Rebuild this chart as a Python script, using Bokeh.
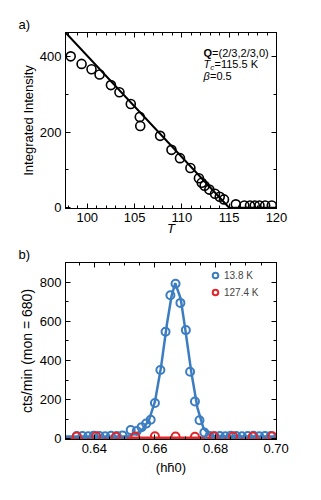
from bokeh.plotting import figure
from bokeh.models import (Range1d, LinearAxis, SingleIntervalTicker, Label,
                          Legend, LegendItem, PrintfTickFormatter, Title,
                          CustomJSTickFormatter)
from bokeh.layouts import column
from bokeh.embed import file_html
from bokeh.resources import INLINE

FONT = "Liberation Sans"

# ---------------- panel a data ----------------
a_T = [98.25, 99.4, 100.45, 101.3, 102.5, 103.4, 104.6, 105.55, 105.6, 107.7,
       108.9, 109.8, 110.9, 111.8, 112.1, 112.4, 112.9, 113.5, 114.0, 114.45,
       115.7, 116.6, 117.2, 117.7, 118.2, 118.8, 119.5]
a_I = [400, 380, 366, 352, 324, 305, 274, 240, 216, 190,
       153, 131, 105, 78, 66, 58, 48, 37, 29, 22,
       9, 6, 6, 6, 6, 6, 6]
a_fit_T = [97.7, 115.0, 120.0]
a_fit_I = [463, 0, 0]

# ---------------- panel b data ----------------
b_x_13 = [0.6342, 0.6361, 0.6380, 0.6398, 0.6417, 0.6436, 0.6455, 0.6474, 0.6493,
          0.6520, 0.6540, 0.6556, 0.6571, 0.6586, 0.6600, 0.6618, 0.6635, 0.6651,
          0.6668, 0.6684, 0.6702, 0.6716, 0.6732, 0.6747, 0.6763, 0.6780, 0.6797,
          0.6814, 0.6832, 0.6850, 0.6868, 0.6887, 0.6906, 0.6925, 0.6944, 0.6963,
          0.6982]
b_y_13 = [15, 15, 14, 16, 15, 14, 16, 15, 18,
          45, 40, 60, 78, 98, 183, 352, 547, 733,
          792, 694, 555, 343, 191, 95, 33, 15, 14,
          15, 14, 16, 15, 14, 15, 16, 14, 15,
          15]
b_fit_x_13 = [0.630, 0.650, 0.652, 0.654, 0.656, 0.658, 0.660, 0.662, 0.664, 0.6655,
              0.6667, 0.6685, 0.670, 0.672, 0.674, 0.676, 0.678, 0.680, 0.700]
b_fit_y_13 = [12, 14, 18, 28, 50, 95, 190, 365, 590, 730,
              795, 715, 560, 340, 160, 55, 20, 13, 12]

b_x_127 = [0.6342, 0.6406, 0.6471, 0.6535, 0.6600, 0.6668, 0.6732, 0.6794,
           0.6858, 0.6923, 0.6987]
b_y_127 = [12, 13, 11, 12, 14, 12, 11, 13, 12, 12, 13]
b_fit_x_127 = [0.630, 0.700]
b_fit_y_127 = [5, 5]

legend_labels = ["13.8 K", "127.4 K"]
panel_tags = ["a)", "b)"]

BLUE = "#3b7dc0"
RED = "#e3262a"


def make_axes(p, xtick, ytick, xlabel, ylabel, xfmt=None, italic_x=False):
    xa = LinearAxis(ticker=xtick, axis_label=xlabel)
    if xfmt is not None:
        xa.formatter = xfmt
    ya = LinearAxis(ticker=ytick, axis_label=ylabel)
    blank = CustomJSTickFormatter(code="return '';")
    xr = LinearAxis(ticker=xtick, formatter=blank, major_label_standoff=0)
    yr = LinearAxis(ticker=ytick, formatter=blank, major_label_standoff=0)
    p.add_layout(xa, "below")
    p.add_layout(ya, "left")
    p.add_layout(xr, "above")
    p.add_layout(yr, "right")
    for ax in [xa, ya, xr, yr]:
        ax.major_tick_in = 5
        ax.major_tick_out = 0
        ax.minor_tick_in = 3
        ax.minor_tick_out = 0
        ax.axis_line_color = "black"
        ax.major_tick_line_color = "black"
        ax.minor_tick_line_color = "black"
        ax.major_label_text_font = FONT
        ax.axis_label_text_font = FONT
        ax.major_label_text_color = "black"
        ax.axis_label_text_color = "black"
    for ax in [xa, ya]:
        ax.major_label_text_font_size = "13px"
        ax.axis_label_text_font_size = "13px"
        ax.axis_label_text_font_style = "normal"
        ax.major_label_standoff = 4
    if italic_x:
        xa.axis_label_text_font_style = "italic"
    p.xgrid.visible = False
    p.ygrid.visible = False
    p.outline_line_color = "black"
    p.outline_line_width = 1
    return xa, ya


def tag_title(text):
    return Title(text=text, align="left", offset=-47, standoff=2,
                 text_font=FONT, text_font_size="13px",
                 text_font_style="normal", text_color="black")


# ---------------- figure a ----------------
pa = figure(frame_width=211, frame_height=176, output_backend="svg",
            toolbar_location=None, x_range=Range1d(97.7, 120.0),
            y_range=Range1d(-2, 463), min_border_left=65, min_border_top=32,
            min_border_right=20, min_border_bottom=30,
            x_axis_location=None, y_axis_location=None,
            title=tag_title(panel_tags[0]))
xa, ya = make_axes(pa, SingleIntervalTicker(interval=5, num_minor_ticks=5),
                   SingleIntervalTicker(interval=200, num_minor_ticks=2),
                   "T", "Integrated Intensity", italic_x=True)
xa.axis_label_standoff = -4
ya.axis_label_standoff = 1

pa.line(a_fit_T, a_fit_I, line_color="black", line_width=2)
pa.scatter(a_T, a_I, marker="circle", size=9, fill_color=None,
           line_color="black", line_width=1.6)

ann = dict(x_units="screen", y_units="screen", text_font=FONT,
           text_baseline="middle", text_color="black")
pa.add_layout(Label(x=138, y=156, text="Q", text_font_size="11px",
                    text_font_style="bold", **ann))
pa.add_layout(Label(x=146.6, y=156, text="=(2/3,2/3,0)", text_font_size="11px", **ann))
pa.add_layout(Label(x=138, y=144.5, text="T", text_font_size="11px",
                    text_font_style="italic", **ann))
pa.add_layout(Label(x=144.7, y=141.5, text="c", text_font_size="8px",
                    text_font_style="italic", **ann))
pa.add_layout(Label(x=149, y=144.5, text="=115.5 K", text_font_size="11px", **ann))
pa.add_layout(Label(x=138, y=133, text="β", text_font_size="11px",
                    text_font_style="italic", **ann))
pa.add_layout(Label(x=144.5, y=133, text="=0.5", text_font_size="11px", **ann))

# ---------------- figure b ----------------
pb = figure(frame_width=211, frame_height=177, output_backend="svg",
            toolbar_location=None, x_range=Range1d(0.6305, 0.7001),
            y_range=Range1d(-3, 900), min_border_left=65, min_border_top=24,
            min_border_right=20, min_border_bottom=45,
            x_axis_location=None, y_axis_location=None,
            title=tag_title(panel_tags[1]))
xb, yb = make_axes(pb, SingleIntervalTicker(interval=0.02, num_minor_ticks=4),
                   SingleIntervalTicker(interval=200, num_minor_ticks=2),
                   "(hh\u03040)", "cts/min (mon = 680)",
                   xfmt=PrintfTickFormatter(format="%.2f"))
xb.axis_label_standoff = 4
yb.axis_label_standoff = 2
yb.axis_label_text_font_size = "14px"

pb.line(b_fit_x_127, b_fit_y_127, line_color=RED, line_width=3)
pb.line(b_fit_x_13, b_fit_y_13, line_color=BLUE, line_width=2.5)
r13 = pb.scatter(b_x_13, b_y_13, marker="circle", size=8, fill_color=None,
                 line_color=BLUE, line_width=2)
r127 = pb.scatter(b_x_127, b_y_127, marker="circle", size=8, fill_color=None,
                  line_color=RED, line_width=2)

leg = Legend(items=[LegendItem(label=legend_labels[0], renderers=[r13]),
                    LegendItem(label=legend_labels[1], renderers=[r127])],
             location=(143, 140), padding=0, margin=0, spacing=3,
             glyph_width=14, glyph_height=14, label_height=14,
             label_standoff=2, label_text_font=FONT,
             label_text_font_size="10px", border_line_color=None,
             background_fill_alpha=0)
pb.add_layout(leg, "center")

open("out.html", "w").write(file_html(column(pa, pb, spacing=0), INLINE))
